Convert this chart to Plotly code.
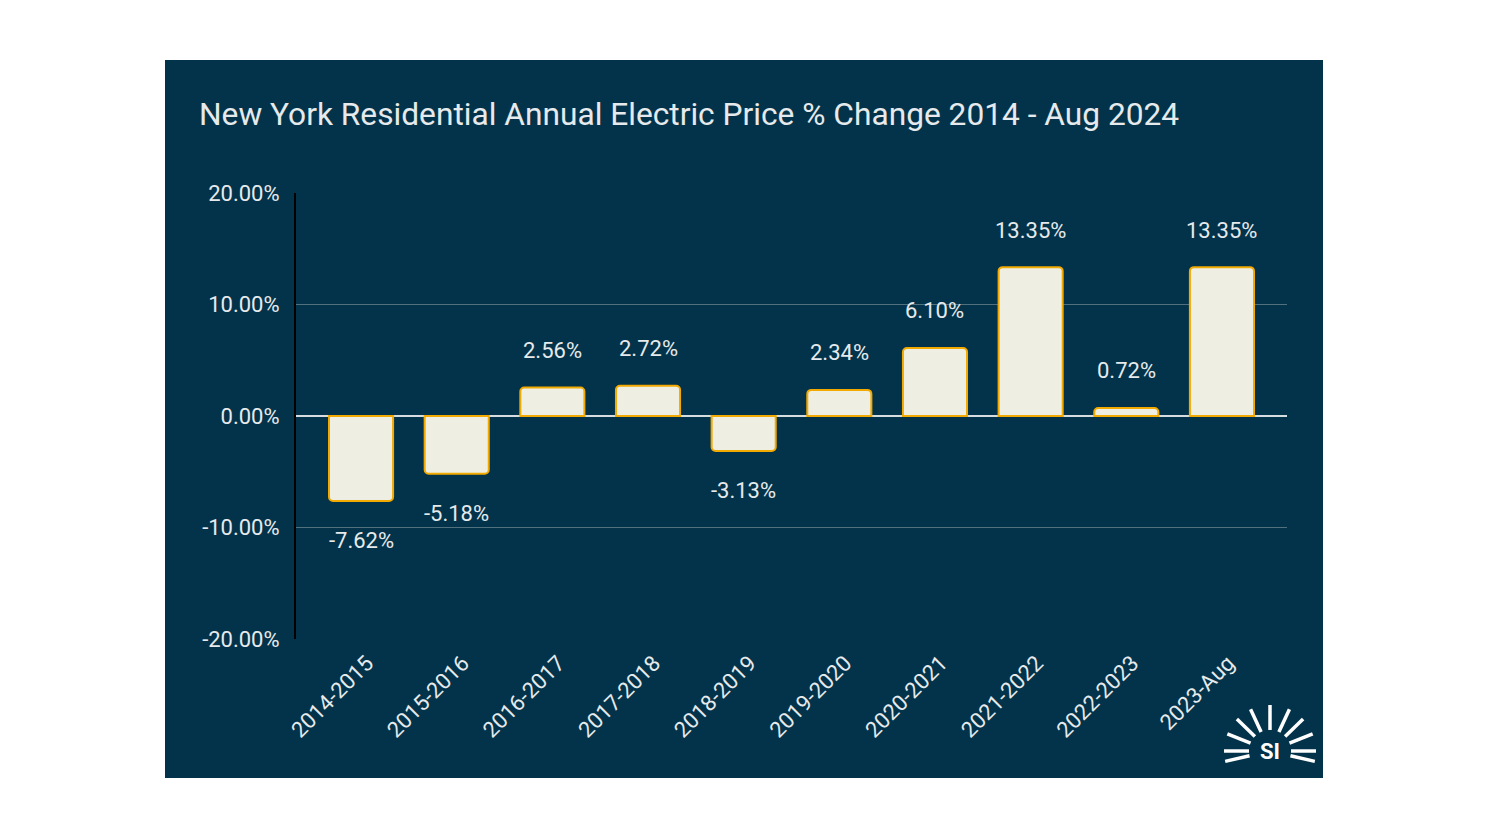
import math
import plotly.graph_objects as go

categories = ["2014-2015", "2015-2016", "2016-2017", "2017-2018", "2018-2019",
              "2019-2020", "2020-2021", "2021-2022", "2022-2023", "2023-Aug"]
pct_change = [-7.62, -5.18, 2.56, 2.72, -3.13, 2.34, 6.10, 13.35, 0.72, 13.35]
y_ticks = [-20, -10, 0, 10, 20]
y_tick_labels = ["-20.00%", "-10.00%", "0.00%", "10.00%", "20.00%"]
title_text = "New York Residential Annual Electric Price % Change 2014 - Aug 2024"

W, H = 1488, 837
PL, PR, PT, PB = 296, 1287, 193, 639  # plot area in pixels

NAVY = "#03334A"
TXT = "#E6EAEC"
FONT = "Roboto, Arial, sans-serif"


def px(x):
    return (x - PL) / (PR - PL)


def py(y):
    return (PB - y) / (PB - PT)


fig = go.Figure()
fig.add_trace(go.Bar(
    x=list(range(len(categories))), y=pct_change,
    width=0.67,
    marker=dict(color="#EEEEE2", line=dict(color="#F2A900", width=2)),
    hoverinfo="skip",
))

annotations = []
for i, v in enumerate(pct_change):
    annotations.append(dict(
        x=i, y=v, xref="x", yref="y", text=f"{v:.2f}%", showarrow=False,
        yshift=37 if v >= 0 else -40,
        font=dict(family=FONT, size=22, color=TXT),
    ))

# title
annotations.append(dict(
    x=px(197), y=py(114), xref="paper", yref="paper", xanchor="left", yanchor="middle",
    text=title_text, showarrow=False, font=dict(family=FONT, size=31.7, color=TXT),
))

shapes = [dict(type="rect", xref="paper", yref="paper", x0=px(165), x1=px(1323),
               y0=py(778), y1=py(60), fillcolor=NAVY, line=dict(width=0), layer="below")]

# logo
cx, cy = 1270, 751
for ang in [90, 65, 44, 22, 0, -13, 115, 136, 158, 180, 193]:
    a = math.radians(ang)
    r0, r1 = 21, 46
    shapes.append(dict(type="line", xref="paper", yref="paper",
                       x0=px(cx + r0 * math.cos(a)), y0=py(cy - r0 * math.sin(a)),
                       x1=px(cx + r1 * math.cos(a)), y1=py(cy - r1 * math.sin(a)),
                       line=dict(color="white", width=3.5), layer="above"))
annotations.append(dict(x=px(cx), y=py(cy), xref="paper", yref="paper", text="<b>SI</b>",
                        showarrow=False, font=dict(family="Roboto, Arial", size=22, color="white"),
                        xanchor="center", yanchor="middle"))

fig.update_layout(
    width=W, height=H,
    margin=dict(l=PL, r=W - PR, t=PT, b=H - PB, pad=0),
    paper_bgcolor="white", plot_bgcolor="rgba(0,0,0,0)",
    showlegend=False,
    barcornerradius=4,
    font=dict(family=FONT, color=TXT),
    xaxis=dict(
        range=[-0.68, 9.68], tickmode="array", tickvals=list(range(len(categories))),
        ticktext=categories, tickangle=-45, showgrid=False, zeroline=False,
        showline=False, ticks="", ticklabelstandoff=6, ticklabelshift=6,
        tickfont=dict(family=FONT, size=22, color=TXT),
    ),
    yaxis=dict(
        range=[-20, 20], tickmode="array", tickvals=y_ticks, ticktext=y_tick_labels,
        showgrid=True, gridcolor="#52717F", gridwidth=1,
        zeroline=True, zerolinecolor="#D5DDE0", zerolinewidth=2,
        showline=True, linecolor="black", linewidth=2,
        ticks="", ticklabelstandoff=10, tickfont=dict(family=FONT, size=22, color=TXT),
    ),
    annotations=annotations, shapes=shapes,
)

fig.write_html("out.html")
